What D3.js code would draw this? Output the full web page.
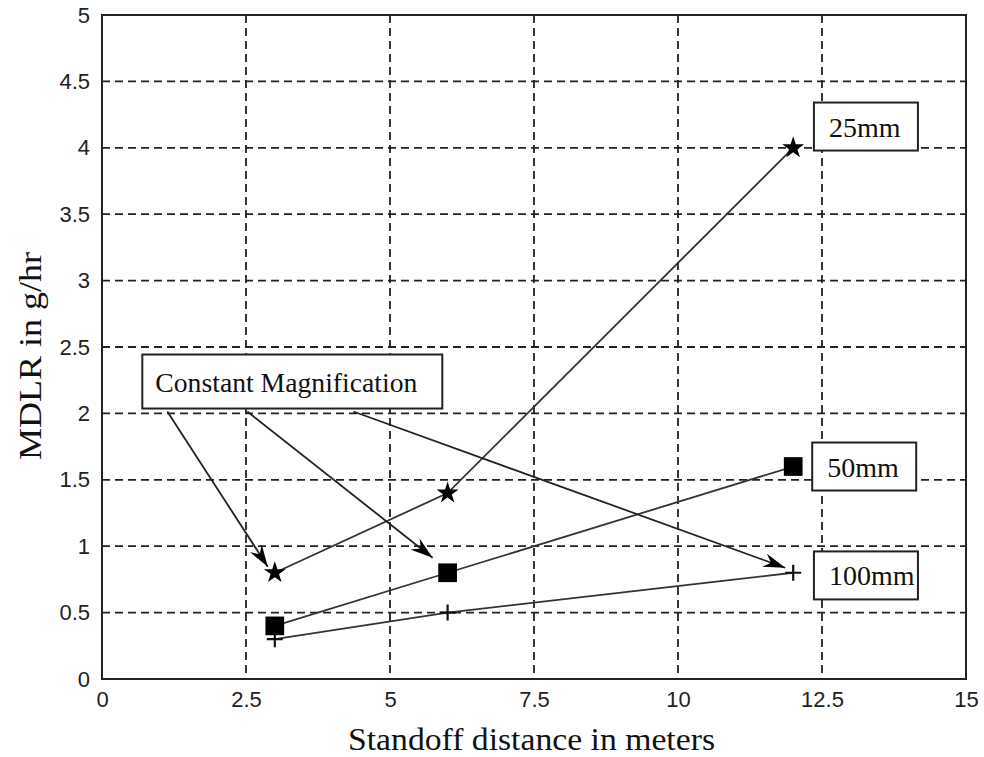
<!DOCTYPE html>
<html>
<head>
<meta charset="utf-8">
<script src="https://cdn.jsdelivr.net/npm/d3@7"></script>
<style>
  body { margin: 0; background: #fff; }
  .tick text { font-family: "Liberation Sans", Arial, sans-serif; font-size: 22px; fill: #222; }
  .serif { font-family: "Liberation Serif", "Times New Roman", serif; fill: #111; }
</style>
</head>
<body>
<svg id="chart" width="984" height="757"></svg>
<script>
// data
const distances = [3, 6, 12];
const mdlr25 = [0.8, 1.4, 4.0];
const mdlr50 = [0.4, 0.8, 1.6];
const mdlr100 = [0.3, 0.5, 0.8];
const xTicks = [0, 2.5, 5, 7.5, 10, 12.5, 15];
const yTicks = [0, 0.5, 1, 1.5, 2, 2.5, 3, 3.5, 4, 4.5, 5];
// label boxes: [text, x of box left, y value at box centre]
const seriesLabels = [["25mm", 12.36, 4.16], ["50mm", 12.33, 1.6], ["100mm", 12.36, 0.78]];
// arrow targets of the "Constant Magnification" note
const arrowTargets = [[3, 0.8], [6, 0.8], [12, 0.8]];

const margin = { top: 15, right: 18, bottom: 78, left: 102 },
      width = 984 - margin.left - margin.right,
      height = 757 - margin.top - margin.bottom;

const svg = d3.select("#chart");
const g = svg.append("g").attr("transform", `translate(${margin.left},${margin.top})`);

const x = d3.scaleLinear().domain([0, 15]).range([0, width]);
const y = d3.scaleLinear().domain([0, 5]).range([height, 0]);

// dashed grid
g.append("g").selectAll("line")
  .data(xTicks.slice(1, -1))
  .join("line")
    .attr("x1", d => x(d)).attr("x2", d => x(d))
    .attr("y1", 0).attr("y2", height)
    .attr("stroke", "#222").attr("stroke-width", 1.8)
    .attr("stroke-dasharray", "8,5");
g.append("g").selectAll("line")
  .data(yTicks.slice(1, -1))
  .join("line")
    .attr("x1", 0).attr("x2", width)
    .attr("y1", d => y(d)).attr("y2", d => y(d))
    .attr("stroke", "#222").attr("stroke-width", 1.8)
    .attr("stroke-dasharray", "8,5");

// axes
const xAxis = g.append("g")
  .attr("transform", `translate(0,${height})`)
  .call(d3.axisBottom(x).tickValues(xTicks).tickFormat(d3.format("")).tickSize(0).tickPadding(12));
const yAxis = g.append("g")
  .call(d3.axisLeft(y).tickValues(yTicks).tickFormat(d3.format("")).tickSize(0).tickPadding(12));
xAxis.select(".domain").remove();
yAxis.select(".domain").remove();

g.append("rect")
  .attr("width", width).attr("height", height)
  .attr("fill", "none").attr("stroke", "#222").attr("stroke-width", 2);

// series
const line = d3.line().x(d => x(d[0])).y(d => y(d[1]));
const series = [
  { name: "25mm", vals: mdlr25, symbol: d3.symbolStar, size: 150 },
  { name: "50mm", vals: mdlr50, symbol: d3.symbolSquare, size: 350 },
  { name: "100mm", vals: mdlr100, symbol: d3.symbolCross, size: 0 }
];

series.forEach(s => {
  const pts = distances.map((d, i) => [d, s.vals[i]]);
  g.append("path")
    .datum(pts)
    .attr("d", line)
    .attr("fill", "none")
    .attr("stroke", "#333")
    .attr("stroke-width", 1.8);
  if (s.size > 0) {
    g.selectAll(null)
      .data(pts)
      .join("path")
        .attr("transform", d => `translate(${x(d[0])},${y(d[1])})`)
        .attr("d", d3.symbol().type(s.symbol).size(s.size))
        .attr("fill", "#000");
  } else {
    // thin plus markers
    g.selectAll(null)
      .data(pts)
      .join("path")
        .attr("transform", d => `translate(${x(d[0])},${y(d[1])})`)
        .attr("d", "M-8,0H8M0,-8V8")
        .attr("stroke", "#111")
        .attr("stroke-width", 2.2);
  }
});

// series label boxes
seriesLabels.forEach(([txt, bx, by]) => {
  const lx = x(bx), ly = y(by);
  g.append("rect")
    .attr("x", lx).attr("y", ly - 24)
    .attr("width", 104).attr("height", 48)
    .attr("fill", "#fff").attr("stroke", "#222").attr("stroke-width", 2);
  g.append("text")
    .attr("class", "serif")
    .attr("x", lx + 15).attr("y", ly + 10)
    .style("font-size", "28px")
    .text(txt);
});

// arrow head
svg.append("defs").append("marker")
  .attr("id", "head")
  .attr("viewBox", "0 0 22 14")
  .attr("refX", 22).attr("refY", 7)
  .attr("markerWidth", 22).attr("markerHeight", 14)
  .attr("markerUnits", "userSpaceOnUse")
  .attr("orient", "auto")
  .append("path")
    .attr("d", "M0,0L22,7L0,14L7,7Z")
    .attr("fill", "#000");

// "Constant Magnification" note
const noteX = x(0.7), noteY = y(2.24);
const startDx = [25, 105, 211];
const tipOffset = [[-7, -6], [-15, -15], [-8, -5]];
arrowTargets.forEach((d, i) => {
  g.append("line")
    .attr("x1", noteX + startDx[i]).attr("y1", noteY + 30)
    .attr("x2", x(d[0]) + tipOffset[i][0]).attr("y2", y(d[1]) + tipOffset[i][1])
    .attr("stroke", "#222").attr("stroke-width", 1.8)
    .attr("marker-end", "url(#head)");
});
g.append("rect")
  .attr("x", noteX).attr("y", noteY - 27)
  .attr("width", 300).attr("height", 54)
  .attr("fill", "#fff").attr("stroke", "#222").attr("stroke-width", 2);
g.append("text")
  .attr("class", "serif")
  .attr("x", noteX + 13).attr("y", noteY + 10)
  .style("font-size", "27px")
  .attr("textLength", 262)
  .attr("lengthAdjust", "spacingAndGlyphs")
  .text("Constant Magnification");

// axis titles
svg.append("text")
  .attr("class", "serif")
  .attr("x", 348).attr("y", 750)
  .style("font-size", "31px")
  .attr("textLength", 367)
  .attr("lengthAdjust", "spacingAndGlyphs")
  .text("Standoff distance in meters");
svg.append("text")
  .attr("class", "serif")
  .attr("transform", "translate(41,460) rotate(-90)")
  .style("font-size", "32px")
  .attr("textLength", 208)
  .attr("lengthAdjust", "spacingAndGlyphs")
  .text("MDLR in g/hr");
</script>
</body>
</html>
